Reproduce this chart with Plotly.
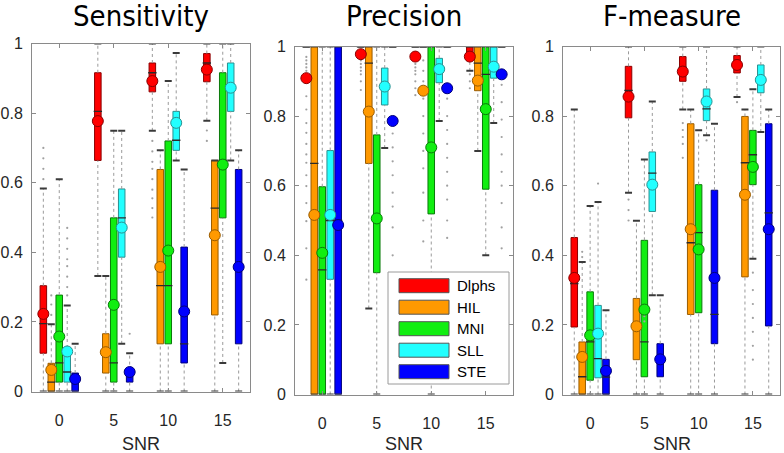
import plotly.graph_objects as go

W, H = 784, 453

methods = ["Dlphs", "HIL", "MNI", "SLL", "STE"]
snr = [0, 5, 10, 15]
offsets = [-1.46, -0.73, 0.0, 0.73, 1.46]
fills = ["#ff0000", "#ff9900", "#11ee11", "#22ffff", "#0000ff"]
edges = ["#8a0000", "#9a5c00", "#0a7a0a", "#2a9090", "#00007a"]

# rows = methods, cols = SNR 0, 5, 10, 15
sens_q1 = [[0.11, 0.664, 0.861, 0.89], [0.0, 0.053, 0.137, 0.22], [0.027, 0.027, 0.137, 0.499],
           [0.027, 0.386, 0.693, 0.805], [0.0, 0.027, 0.082, 0.137]]
sens_med = [[0.195, 0.805, 0.916, 0.944], [0.027, 0.11, 0.304, 0.527], [0.082, 0.082, 0.304, 0.664],
            [0.056, 0.499, 0.722, 0.88], [0.027, 0.056, 0.137, 0.36]]
sens_q3 = [[0.304, 0.916, 0.944, 0.971], [0.081, 0.166, 0.638, 0.664], [0.277, 0.499, 0.72, 0.916],
           [0.125, 0.582, 0.805, 0.944], [0.053, 0.06, 0.415, 0.638]]
sens_lo = [[0.0, 0.332, 0.749, 0.778], [0.0, 0.0, 0.0, 0.0], [0.0, 0.0, 0.0, 0.082],
           [0.0, 0.137, 0.664, 0.664], [0.0, 0.0, 0.0, 0.0]]
sens_hi = [[0.583, 1.0, 1.0, 1.0], [0.193, 0.332, 0.693, 0.664], [0.61, 0.749, 0.892, 1.0],
           [0.247, 0.749, 0.973, 1.0], [0.137, 0.11, 0.638, 0.693]]
sens_mean = [[0.223, 0.777, 0.892, 0.925], [0.062, 0.113, 0.358, 0.449], [0.158, 0.249, 0.405, 0.652],
             [0.115, 0.471, 0.772, 0.873], [0.036, 0.056, 0.23, 0.358]]
sens_out = [[[0.61, 0.64, 0.67, 0.70], [], [0.72, 0.69, 0.66, 0.64, 0.61, 0.58, 0.555, 0.527, 0.50], [0.75, 0.72]],
            [[0.22, 0.25, 0.276], [], [], []],
            [[], [], [], []],
            [[0.276, 0.30, 0.33, 0.36, 0.38, 0.41, 0.44, 0.47], [], [], []],
            [[], [0.166], [], []]]

prec_q1 = [[1.0, 1.0, 1.0, 0.97], [0.0, 0.664, 1.0, 0.873], [0.0, 0.35, 0.519, 0.59],
           [0.331, 0.832, 0.896, 0.909], [0.0, 1.0, 1.0, 1.0]]
prec_med = [[1.0, 1.0, 1.0, 1.0], [0.664, 0.952, 1.0, 0.952], [0.358, 0.5, 0.7, 0.92],
            [0.5, 0.885, 0.935, 0.95], [0.5, 1.0, 1.0, 1.0]]
prec_q3 = [[1.0, 1.0, 1.0, 1.0], [1.0, 1.0, 1.0, 1.0], [0.597, 0.746, 1.0, 1.0],
           [0.701, 0.938, 0.966, 1.0], [1.0, 1.0, 1.0, 1.0]]
prec_lo = [[1.0, 1.0, 1.0, 0.93], [0.0, 0.247, 1.0, 0.70], [0.0, 0.0, 0.0, 0.40],
           [0.0, 0.708, 0.786, 0.78], [0.0, 1.0, 1.0, 1.0]]
prec_hi = [[1.0, 1.0, 1.0, 1.0], [1.0, 1.0, 1.0, 1.0], [1.0, 1.0, 1.0, 1.0],
           [1.0, 1.0, 1.0, 1.0], [1.0, 1.0, 1.0, 1.0]]
prec_mean = [[0.909, 0.978, 0.971, 0.971], [0.516, 0.813, 0.873, 0.902], [0.407, 0.506, 0.71, 0.82],
             [0.516, 0.885, 0.935, 0.942], [0.487, 0.786, 0.88, 0.92]]
prec_out = [[[0.97, 0.96, 0.95, 0.94, 0.93, 0.896, 0.857, 0.819, 0.78, 0.752, 0.72, 0.69, 0.666,
              0.63, 0.599, 0.55, 0.498, 0.42, 0.33],
             [0.97, 0.96, 0.95, 0.94, 0.93, 0.92, 0.90, 0.875],
             [0.96, 0.95, 0.94, 0.93, 0.92, 0.90, 0.88, 0.86],
             [0.92, 0.90, 0.88]],
            [[], [], [0.96, 0.93, 0.90, 0.85, 0.80, 0.75, 0.70, 0.65, 0.58, 0.50, 0.44], []],
            [[], [], [], []],
            [[], [], [], []],
            [[], [0.75, 0.71, 0.67, 0.63, 0.58, 0.54, 0.48, 0.40],
             [0.85, 0.80, 0.76, 0.72, 0.68, 0.64, 0.60, 0.56, 0.50, 0.45],
             [0.89, 0.84, 0.79, 0.74, 0.69, 0.64, 0.60, 0.55, 0.48, 0.42, 0.33, 0.25]]]

fm_q1 = [[0.194, 0.795, 0.90, 0.924], [0.0, 0.10, 0.23, 0.338], [0.041, 0.051, 0.235, 0.603],
         [0.048, 0.526, 0.787, 0.867], [0.0, 0.051, 0.146, 0.197]]
fm_med = [[0.319, 0.874, 0.94, 0.947], [0.051, 0.19, 0.436, 0.666], [0.151, 0.151, 0.465, 0.689],
          [0.103, 0.636, 0.821, 0.90], [0.05, 0.10, 0.23, 0.522]]
fm_q3 = [[0.451, 0.943, 0.971, 0.974], [0.151, 0.276, 0.778, 0.799], [0.295, 0.443, 0.603, 0.759],
         [0.256, 0.697, 0.878, 0.947], [0.101, 0.146, 0.587, 0.778]]
fm_lo = [[0.0, 0.58, 0.819, 0.855], [0.0, 0.0, 0.0, 0.0], [0.0, 0.0, 0.0, 0.39],
         [0.0, 0.285, 0.745, 0.754], [0.0, 0.0, 0.0, 0.0]]
fm_hi = [[0.819, 1.0, 1.0, 1.0], [0.381, 0.499, 0.819, 0.819], [0.542, 0.675, 0.759, 0.877],
         [0.553, 0.842, 1.0, 1.0], [0.242, 0.285, 0.778, 0.819]]
fm_mean = [[0.335, 0.856, 0.928, 0.947], [0.108, 0.196, 0.475, 0.574], [0.170, 0.244, 0.417, 0.654],
           [0.175, 0.603, 0.842, 0.904], [0.068, 0.101, 0.335, 0.475]]
fm_out = [[[], [0.56, 0.53, 0.50], [0.78, 0.76, 0.74, 0.72, 0.68], [0.84]],
          [[0.41, 0.395], [], [], []],
          [[], [0.225, 0.21], [], [0.35, 0.30, 0.26, 0.22, 0.18, 0.14, 0.10]],
          [[0.606], [], [0.73], []],
          [[], [], [], []]]

titles = ["Sensitivity", "Precision", "F-measure"]
yticks = [0, 0.2, 0.4, 0.6, 0.8, 1]
yticktext = ["0", "0.2", "0.4", "0.6", "0.8", "1"]

# panel boxes in pixels (left, right, top, bottom)
panels_px = [(32, 250, 43.5, 391.5), (295, 513, 46.5, 394.5), (563, 780, 46.5, 394.5)]

AX = "#8a8a8a"
TXT = "#262626"

fig = go.Figure()


def add_panel(k, q1, med, q3, lo, hi, mean, out):
    xa = "x" if k == 1 else f"x{k}"
    ya = "y" if k == 1 else f"y{k}"
    common = dict(xaxis=xa, yaxis=ya, showlegend=False, hoverinfo="skip")
    # whiskers (outside the box only), outliers, caps
    for m in range(5):
        pos = [s + offsets[m] for s in snr]
        wx, wy = [], []
        for p, a, b, c, d in zip(pos, lo[m], q1[m], q3[m], hi[m]):
            if b > a:
                wx += [p, p, None]
                wy += [a, b, None]
            if d > c:
                wx += [p, p, None]
                wy += [c, d, None]
        fig.add_trace(go.Scatter(x=wx, y=wy, mode="lines",
                                 line=dict(color="#9a9a9a", width=1, dash="dot"), **common))
        ox, oy = [], []
        for p, vals in zip(pos, out[m]):
            ox += [p] * len(vals)
            oy += vals
        fig.add_trace(go.Scatter(x=ox, y=oy, mode="markers",
                                 marker=dict(size=2.2, color="#a0a0a0"), **common))
        fig.add_trace(go.Scatter(x=pos + pos, y=lo[m] + hi[m], mode="markers",
                                 marker=dict(symbol="line-ew", size=5,
                                             line=dict(color="#3a3a3a", width=2)), **common))
    # boxes + medians
    for m in range(5):
        pos = [s + offsets[m] for s in snr]
        fig.add_trace(go.Bar(x=pos, y=[b - a for a, b in zip(q1[m], q3[m])], base=q1[m],
                             width=0.6, marker=dict(color=fills[m], line=dict(color=edges[m], width=1)),
                             **common))
        fig.add_trace(go.Scatter(x=pos, y=med[m], mode="markers",
                                 marker=dict(symbol="line-ew", size=6,
                                             line=dict(color="#2a2a2a", width=1.3)), **common))
    # means
    for m in range(5):
        pos = [s + offsets[m] for s in snr]
        fig.add_trace(go.Scatter(x=pos, y=mean[m], mode="markers",
                                 marker=dict(symbol="circle", size=11, color=fills[m],
                                             line=dict(color=edges[m], width=1)), **common))

    l, r, t, b = panels_px[k - 1]
    axis_common = dict(showline=True, mirror="ticks", linecolor=AX, linewidth=1,
                       ticks="inside", ticklen=4, tickcolor=AX, showgrid=False, zeroline=False,
                       automargin=False, tickfont=dict(family="Liberation Sans", size=16, color=TXT))
    fig.update_layout(**{
        ("xaxis" if k == 1 else f"xaxis{k}"): dict(
            domain=[l / W, r / W], range=[-2.5, 17.5], tickvals=snr, anchor=ya,
            ticklabelstandoff=14, **axis_common),
        ("yaxis" if k == 1 else f"yaxis{k}"): dict(
            domain=[1 - b / H, 1 - t / H], range=[0, 1], tickvals=yticks, ticktext=yticktext,
            anchor=xa, ticklabelstandoff=5, **axis_common),
    })
    fig.add_annotation(x=(l + r) / 2 / W, y=1 - 16 / H, xref="paper", yref="paper",
                       text=titles[k - 1], showarrow=False, xanchor="center", yanchor="middle",
                       font=dict(family="DejaVu Sans Condensed", size=29, color="#000000"))
    fig.add_annotation(x=(l + r) / 2 / W, y=1 - 444 / H, xref="paper", yref="paper",
                       text="SNR", showarrow=False, xanchor="center", yanchor="middle",
                       font=dict(family="Liberation Sans", size=18, color=TXT))


add_panel(1, sens_q1, sens_med, sens_q3, sens_lo, sens_hi, sens_mean, sens_out)
add_panel(2, prec_q1, prec_med, prec_q3, prec_lo, prec_hi, prec_mean, prec_out)
add_panel(3, fm_q1, fm_med, fm_q3, fm_lo, fm_hi, fm_mean, fm_out)

# legend drawn inside the Precision panel
lg_l, lg_r, lg_t, lg_b = 388, 509, 272, 384
fig.add_shape(type="rect", xref="paper", yref="paper",
              x0=lg_l / W, x1=lg_r / W, y0=1 - lg_b / H, y1=1 - lg_t / H,
              fillcolor="white", line=dict(color="#9a9a9a", width=1))
for i, name in enumerate(methods):
    cy = 285.7 + i * 21.5
    fig.add_shape(type="rect", xref="paper", yref="paper",
                  x0=399 / W, x1=449 / W, y0=1 - (cy + 7) / H, y1=1 - (cy - 7) / H,
                  fillcolor=fills[i], line=dict(color="#555555", width=1))
    fig.add_annotation(x=455 / W, y=1 - cy / H, xref="paper", yref="paper", text=name,
                       showarrow=False, xanchor="left", yanchor="middle",
                       font=dict(family="Liberation Sans", size=15, color="#000000"))

fig.update_layout(
    width=W, height=H,
    margin=dict(l=0, r=0, t=0, b=0),
    barmode="overlay",
    paper_bgcolor="white",
    plot_bgcolor="white",
    showlegend=False,
)

# the default page body has an 8px margin; remove it so the figure fills the window
fig.write_html("out.html", config={"displayModeBar": False},
               post_script="document.body.style.margin='0';")
